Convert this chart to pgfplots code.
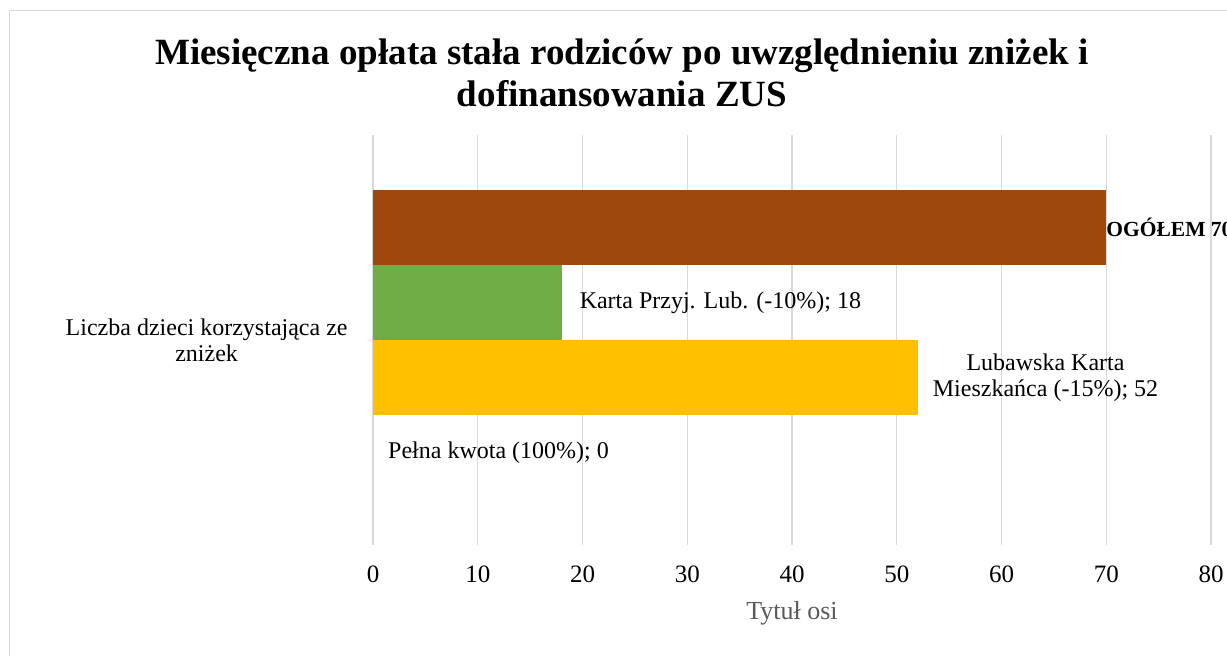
\documentclass[border=0pt]{standalone}
\usepackage{fontspec}
\setmainfont{Liberation Serif}
\usepackage{pgfplots}
\pgfplotsset{compat=1.18}
\definecolor{cbrown}{HTML}{9E480E}
\definecolor{cgreen}{HTML}{70AD47}
\definecolor{cyellow}{HTML}{FFC000}
\definecolor{cgrid}{HTML}{D9D9D9}
\definecolor{caxt}{HTML}{595959}
\begin{document}
\begin{tikzpicture}[x=1bp,y=1bp]
\useasboundingbox (0,0) rectangle (1227,656);
\clip (0,0) rectangle (1227,656);
\draw[cgrid, line width=1.5bp] (9.5,-10) -- (9.5,645.5) -- (1300,645.5);
\node[anchor=base, inner sep=0, font=\fontsize{37bp}{40bp}\selectfont\bfseries] at (622,591) {Miesięczna opłata stała rodziców po uwzględnieniu zniżek i};
\node[anchor=base, inner sep=0, font=\fontsize{37bp}{40bp}\selectfont\bfseries] at (622,549) {dofinansowania ZUS};
\begin{axis}[
  at={(373bp,111bp)}, anchor=south west,
  width=838bp, height=410bp, scale only axis,
  xmin=0, xmax=80, ymin=-1, ymax=1,
  xtick={0,10,...,80}, ytick={0},
  yticklabels={Liczba dzieci korzystająca ze\\zniżek},
  /pgf/number format/assume math mode=true,
  xmajorgrids, major grid style={cgrid, line width=1.3bp},
  axis line style={draw=none}, tick style={draw=none},
  xticklabel style={anchor=base, inner sep=0, yshift=-38bp, font=\fontsize{25bp}{26bp}\selectfont},
  yticklabel style={anchor=east, align=center, inner sep=0, xshift=-21bp, font=\fontsize{24bp}{26bp}\selectfont},
  xlabel={Tytuł osi},
  xlabel style={at={(axis description cs:0.5,0)}, anchor=base, inner sep=0, yshift=-75bp, text=caxt, font=\fontsize{26bp}{26bp}\selectfont},
  xbar, bar width=75bp, clip=false,
  every node near coord/.append style={anchor=west, inner sep=0, align=center, text=black, font=\fontsize{24bp}{26bp}\selectfont},
]
\addplot[draw=none, fill=none, bar shift=-112.5bp,
  nodes near coords={Pełna kwota (100\%); 0},
  every node near coord/.append style={xshift=15bp}] coordinates {(0,0)};
\addplot[draw=none, fill=cyellow, bar shift=-37.5bp,
  nodes near coords={Lubawska Karta\\Mieszkańca (-15\%); 52},
  every node near coord/.append style={xshift=15bp}] coordinates {(52,0)};
\addplot[draw=none, fill=cgreen, bar shift=37.5bp,
  nodes near coords={Karta Przyj. Lub. (-10\%); 18},
  every node near coord/.append style={xshift=18bp}] coordinates {(18,0)};
\addplot[draw=none, fill=cbrown, bar shift=112.5bp,
  nodes near coords={OGÓŁEM 70},
  every node near coord/.append style={xshift=0bp, font=\fontsize{21.5bp}{26bp}\selectfont\bfseries}] coordinates {(70,0)};
\end{axis}
\end{tikzpicture}
\end{document}
